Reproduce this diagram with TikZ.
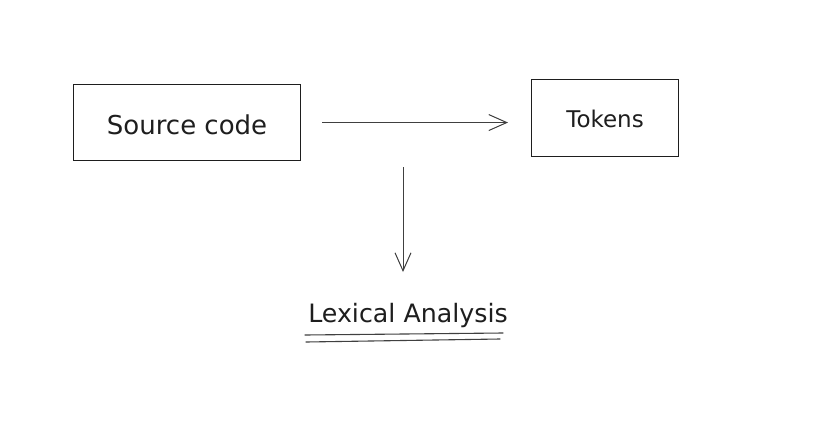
\documentclass[tikz,border=0pt]{standalone}
\usepackage{fontspec}
\setmainfont{DejaVu Sans}
\usetikzlibrary{arrows.meta}
\definecolor{ink}{HTML}{1E1E1E}
\begin{document}
\begin{tikzpicture}[x=1pt,y=-1pt,
  boxstyle/.style={draw=ink,line width=1.1pt,rectangle,inner sep=0pt,anchor=north west},
  srcfont/.style={font=\fontsize{26}{30}\selectfont,text=ink},
  lexfont/.style={font=\fontsize{25.3}{30}\selectfont,text=ink},
  tokfont/.style={font=\fontsize{23}{27}\selectfont,text=ink},
  arr/.style={draw=ink!85,line width=1pt,-{Straight Barb[length=18pt,width=16pt,line width=1pt]}},
  uline/.style={draw=ink!85,line width=1.1pt,line cap=round}]
\useasboundingbox[fill=white] (0,0) rectangle (816,431);
\node[boxstyle,minimum width=227pt,minimum height=76pt] (src) at (73,84) {};
\node[srcfont] (srct) at ([yshift=-2pt]src.center) {Source code};
\node[boxstyle,minimum width=147pt,minimum height=77pt] (tok) at (531,79) {};
\node[tokfont] (tokt) at ([yshift=-1pt]tok.center) {Tokens};
\node[lexfont,inner sep=0pt] (lex) at (408,316) {Lexical Analysis};
\coordinate (hbeg) at ([xshift=21pt]src.east);
\coordinate (hend) at ([xshift=-23pt]src.east -| tok.west);
\draw[arr] (hbeg) -- (hend);
\coordinate (vbeg) at (403,167);
\coordinate (vend) at (403,272);
\draw[arr] (vbeg) -- (vend);
\coordinate (u1a) at (305,335);
\coordinate (u1b) at (503,333);
\coordinate (u2a) at (306,342);
\coordinate (u2b) at (500,339);
\draw[uline] (u1a) -- (u1b);
\draw[uline] (u2a) -- (u2b);
\end{tikzpicture}
\end{document}
